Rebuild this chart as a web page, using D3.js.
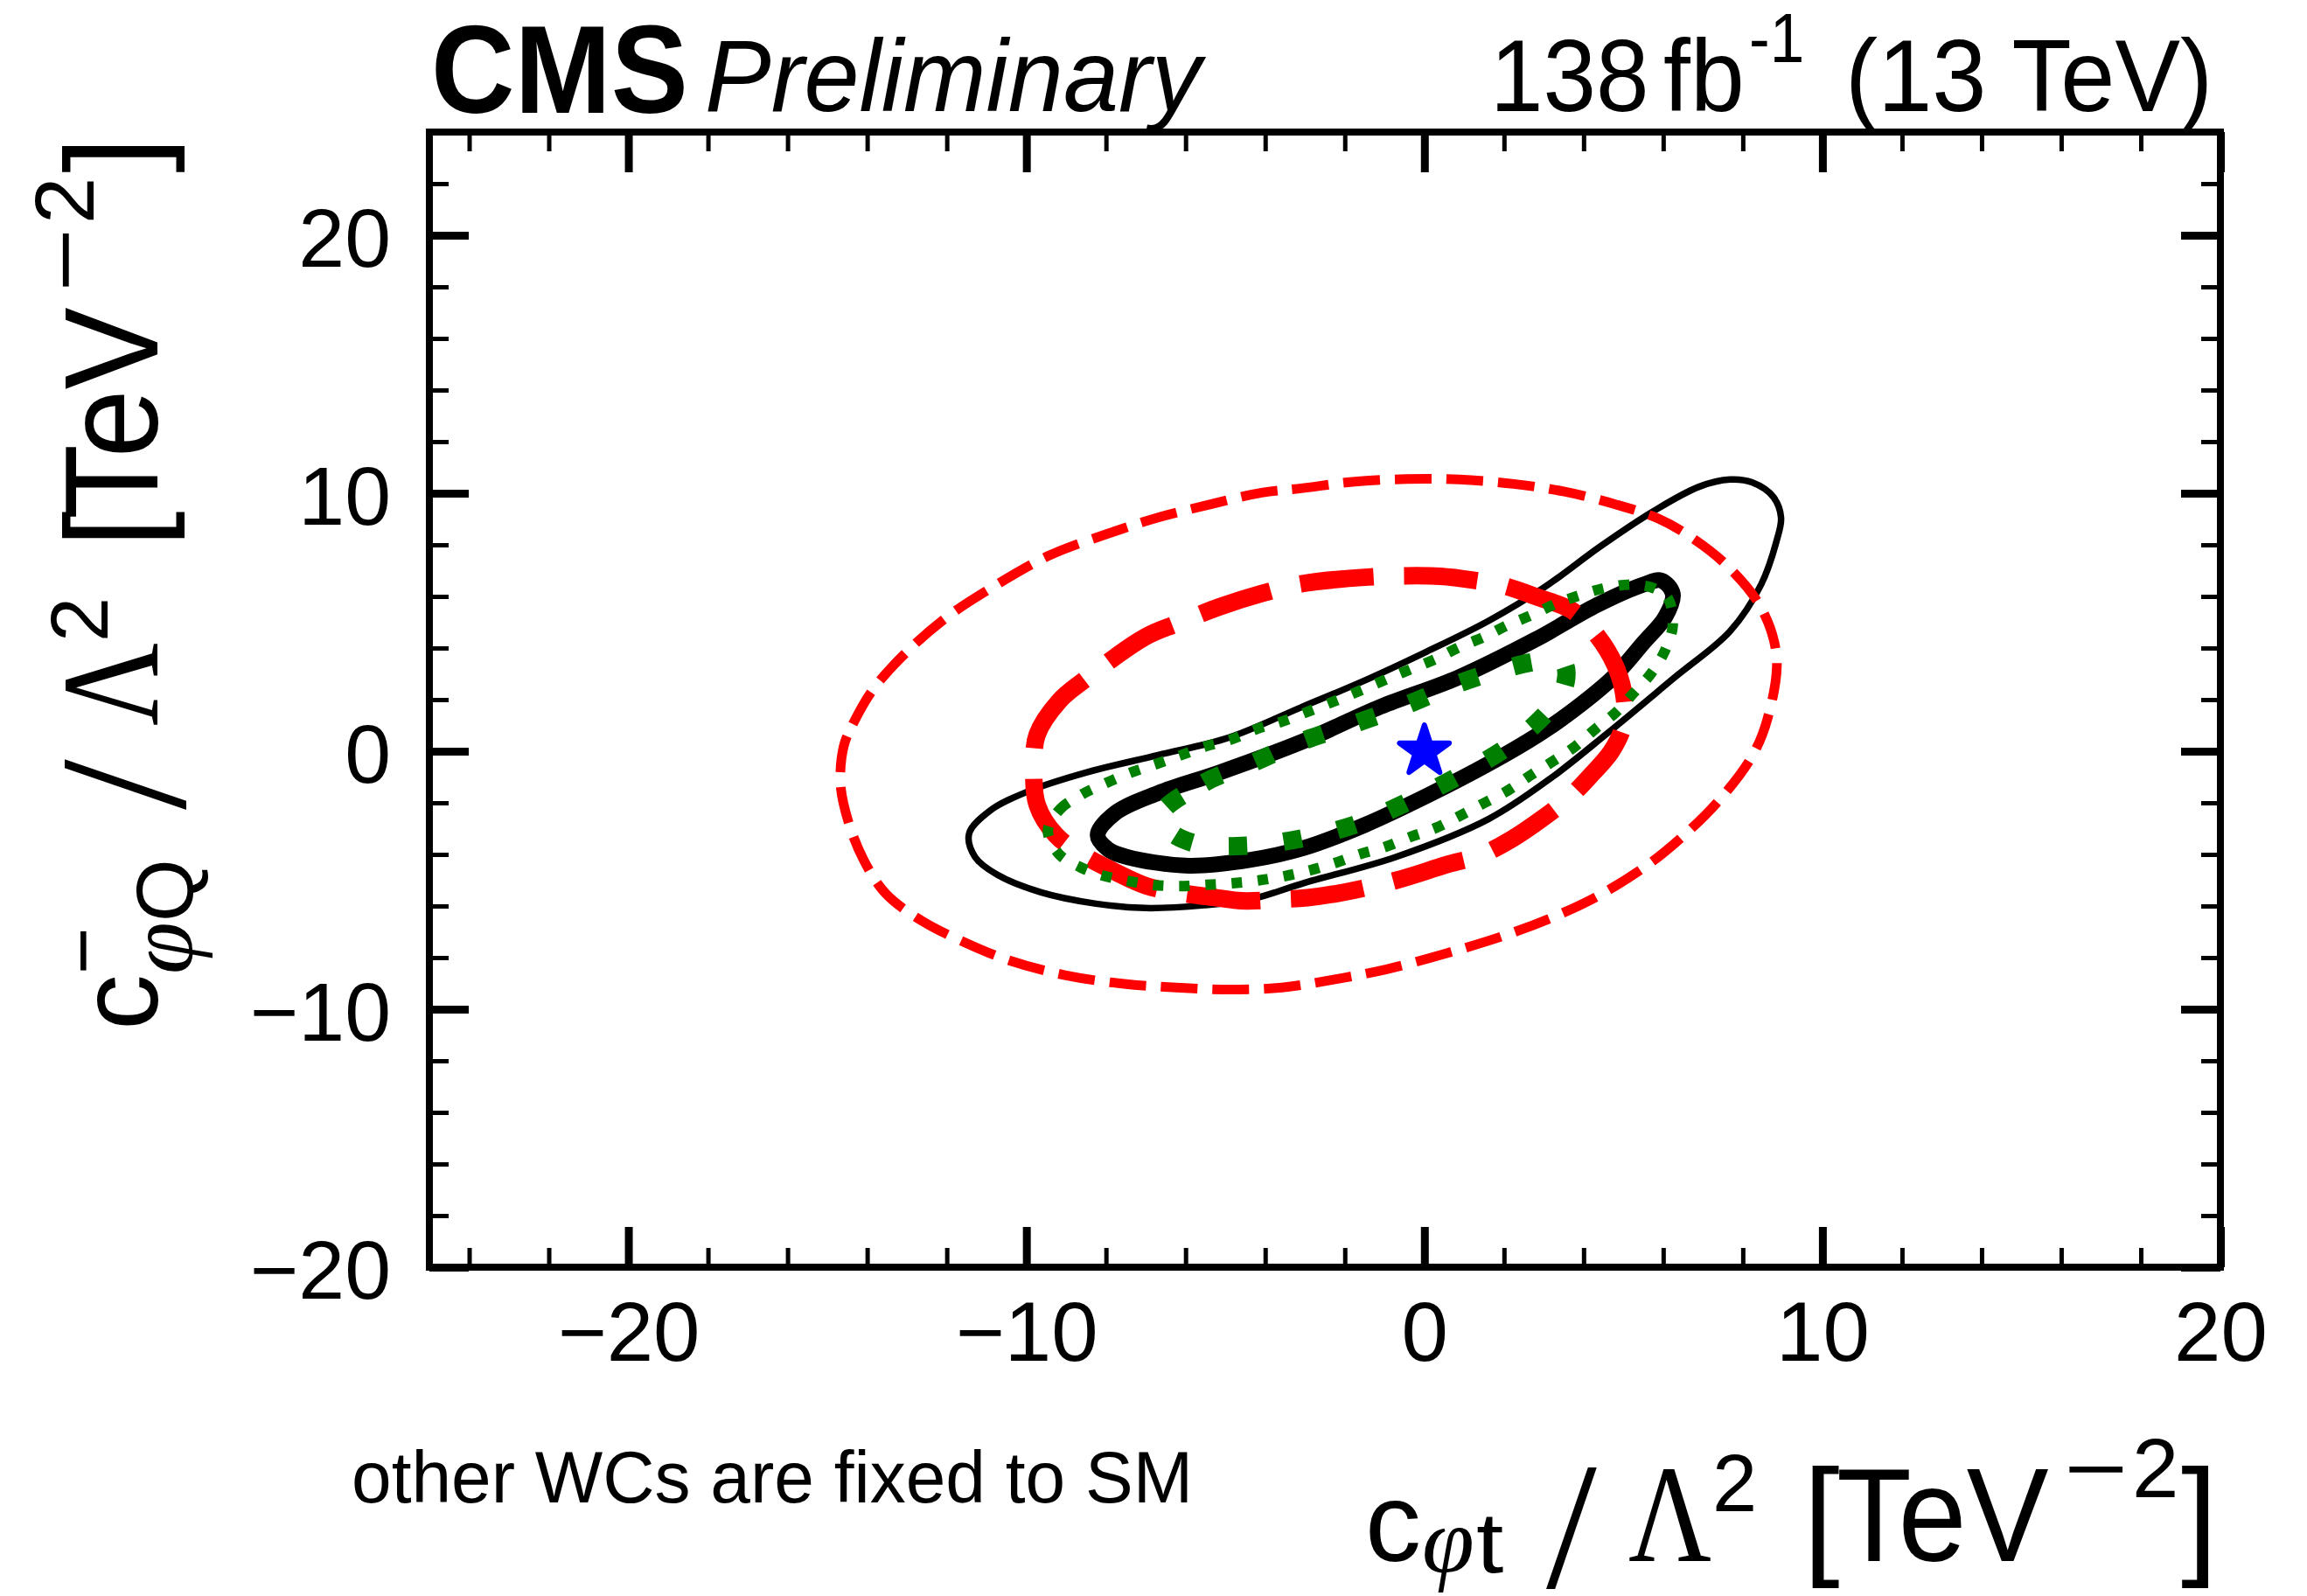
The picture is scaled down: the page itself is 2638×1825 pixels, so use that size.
<!DOCTYPE html>
<html>
<head>
<meta charset="utf-8">
<script src="https://cdn.jsdelivr.net/npm/d3@7"></script>
<style>
  html, body { margin: 0; padding: 0; background: #fff; }
  svg { display: block; }
</style>
</head>
<body>
<svg id="chart" width="2638" height="1825"></svg>
<script>
// ---- axis ranges (Wilson coefficients, TeV^-2) ----
const xDomain = [-25, 20];
const yDomain = [-20, 24];

// ---- best-fit / SM point ----
const bestFit = [[0, 0]];

// ---- observed 68% CL contour (thick black) ----
const obs68 = [
  [-8.21, -3.25], [-7.78, -2.41], [-6.69, -1.62], [-5.14, -0.82], [-3.1, 0.35],
  [-1.11, 1.72], [0.84, 2.85], [2.78, 4.32], [4.34, 5.67], [5.5, 6.46],
  [5.95, 6.62], [6.24, 6.1], [6.05, 5.2], [5.5, 4.2], [4.73, 2.85],
  [3.56, 1.38], [2.86, 0.64], [1.61, -0.49], [0.06, -1.73], [-1.5, -2.86],
  [-3.05, -3.76], [-4.36, -4.21], [-5.92, -4.44], [-7.47, -4.1], [-7.95, -3.8]
];

// ---- observed 95% CL contour (thin black) ----
const obs95 = [
  [-11.44, -3.2], [-10.9, -2.29], [-9.96, -1.56], [-8.48, -0.82], [-6.69, -0.15],
  [-4.91, 0.53], [-3.1, 1.7], [-1.5, 2.74], [0.06, 3.86], [1.61, 5.05],
  [3.01, 6.35], [4.41, 7.93], [5.74, 9.29], [6.9, 10.25], [7.68, 10.53],
  [8.23, 10.42], [8.77, 9.85], [8.96, 9.06], [8.85, 8.16], [8.46, 6.46],
  [7.68, 4.65], [6.28, 2.85], [4.6, 0.7], [3.17, -1.05], [1.61, -2.63],
  [-0.72, -4.1], [-3.05, -5.12], [-4.36, -5.74], [-5.53, -5.97], [-7.01, -6.08],
  [-8.25, -5.91], [-9.65, -5.46], [-10.74, -4.78], [-11.29, -4.1]
];

// ---- expected 68% CL contour (thick green dots) ----
const exp68 = [
  [-6.62, -2.46], [-5.53, -1.22], [-4.28, -0.43], [-3.12, 0.36], [-1.81, 1.04],
  [-0.49, 1.77], [0.76, 2.57], [2.0, 3.19], [3.0, 3.5], [3.5, 3.4],
  [3.55, 2.7], [3.29, 1.89], [2.31, 0.42], [1.15, -0.71], [-0.56, -2.07],
  [-1.77, -2.86], [-3.05, -3.37], [-4.36, -3.65], [-5.72, -3.59], [-6.4, -3.1]
];

// ---- expected 95% CL contour (thin green dots) ----
const exp95 = [
  [-9.46, -3.08], [-9.15, -2.24], [-8.6, -1.67], [-7.98, -1.22], [-7.36, -0.82],
  [-6.73, -0.49], [-6.11, -0.15], [-5.49, 0.19], [-4.83, 0.47], [-4.2, 0.87],
  [-3.58, 1.15], [-2.82, 1.6], [-2.16, 2.0], [-1.54, 2.4], [-0.95, 2.79],
  [-0.33, 3.19], [0.29, 3.58], [0.87, 4.03], [1.5, 4.43], [2.08, 4.88],
  [2.7, 5.28], [3.33, 5.73], [3.95, 6.07], [4.61, 6.35], [5.27, 6.46],
  [5.81, 6.29], [6.13, 5.9], [6.24, 4.88], [6.05, 3.92], [5.7, 3.02],
  [5.27, 2.28], [4.8, 1.49], [4.3, 0.87], [3.79, 0.19], [3.25, -0.37],
  [2.66, -0.94], [2.12, -1.5], [1.5, -2.01], [0.87, -2.52], [0.29, -2.97],
  [-0.33, -3.31], [-0.99, -3.71], [-1.62, -3.99], [-2.24, -4.33], [-2.86, -4.61],
  [-3.51, -4.84], [-4.17, -5.01], [-4.83, -5.12], [-5.49, -5.18], [-6.19, -5.23],
  [-6.85, -5.18], [-7.51, -5.01], [-8.17, -4.78], [-8.64, -4.5], [-9.18, -3.99]
];

// ---- linear-only 68% CL contour (thick red dashes) ----
const lin68 = [
  [-9.81, -0.49], [-9.73, 0.64], [-9.18, 1.94], [-8.56, 2.74], [-7.01, 4.43],
  [-6.23, 4.94], [-5.14, 5.6], [-4.05, 6.13], [-3.05, 6.5], [-1.42, 6.75],
  [-0.49, 6.8], [0.4, 6.78], [1.22, 6.63], [2.0, 6.41], [2.86, 5.96],
  [3.71, 5.45], [4.34, 4.48], [4.8, 3.3], [5.02, 2.1], [5.0, 1.0],
  [4.7, 0.0], [4.2, -0.9], [3.64, -1.79], [2.94, -2.63], [2.2, -3.4],
  [1.38, -4.05], [0.6, -4.38], [-0.7, -5.0], [-1.96, -5.45], [-2.94, -5.68],
  [-3.58, -5.74], [-4.59, -5.8], [-5.22, -5.68], [-6.1, -5.5], [-6.97, -5.23],
  [-7.78, -4.67], [-8.6, -4.0], [-9.26, -3.25], [-9.73, -2.07]
];

// ---- linear-only 95% CL contour (thin red dashes) ----
const lin95 = [
  [-14.59, 0.19], [-14.36, 1.05], [-13.85, 2.4], [-13.0, 3.86], [-11.98, 5.22],
  [-10.86, 6.35], [-9.42, 7.59], [-7.94, 8.44], [-6.69, 9.06], [-5.37, 9.57],
  [-4.09, 10.02], [-3.05, 10.2], [-1.81, 10.44], [-0.45, 10.55], [0.87, 10.53],
  [2.24, 10.36], [3.52, 10.06], [4.8, 9.57], [5.89, 9.01], [6.67, 8.33],
  [7.6, 7.2], [8.46, 5.56], [8.85, 3.64], [8.62, 1.26], [8.23, -0.2],
  [7.37, -1.96], [6.44, -3.37], [5.58, -4.44], [4.41, -5.57], [3.25, -6.42],
  [2.0, -7.15], [0.56, -7.83], [-0.95, -8.45], [-2.28, -8.85], [-3.58, -9.16],
  [-4.91, -9.24], [-6.23, -9.16], [-7.55, -9.02], [-9.03, -8.68], [-10.43, -8.11],
  [-11.52, -7.43], [-12.61, -6.59], [-13.54, -5.51], [-14.09, -4.21], [-14.47, -2.75],
  [-14.67, -1.28]
];

// ---------------------------------------------------------------
const SANS = "'Liberation Sans', Arial, Helvetica, sans-serif";
const SERIF = "'Liberation Serif', 'Times New Roman', serif";

const svg = d3.select("#chart");
const frame = { left: 491, right: 2539, top: 151, bottom: 1449 };

const x = d3.scaleLinear().domain(xDomain).range([frame.left, frame.right]);
const y = d3.scaleLinear().domain(yDomain).range([frame.bottom, frame.top]);

// clip the contours to the frame
svg.append("defs").append("clipPath").attr("id", "plotClip")
  .append("rect")
  .attr("x", frame.left).attr("y", frame.top)
  .attr("width", frame.right - frame.left).attr("height", frame.bottom - frame.top);

const plot = svg.append("g").attr("clip-path", "url(#plotClip)");

const contourLine = d3.line()
  .x(d => x(d[0]))
  .y(d => y(d[1]))
  .curve(d3.curveCatmullRomClosed.alpha(0.5));

const contours = [
  { data: obs95, color: "#000000", width: 7.5, dash: null },
  { data: obs68, color: "#000000", width: 18, dash: null },
  { data: lin95, color: "#ff0000", width: 11, dash: "42 17" },
  { data: lin68, color: "#ff0000", width: 20, dash: "84 35" },
  { data: exp95, color: "#007f00", width: 12, dash: "12 18" },
  { data: exp68, color: "#007f00", width: 21, dash: "21 42" }
];

plot.selectAll("path.contour")
  .data(contours)
  .join("path")
  .attr("class", "contour")
  .attr("d", d => contourLine(d.data))
  .attr("fill", "none")
  .attr("stroke", d => d.color)
  .attr("stroke-width", d => d.width)
  .attr("stroke-dasharray", d => d.dash)
  .attr("stroke-linecap", "butt")
  .attr("stroke-linejoin", "round");

// best-fit marker
plot.selectAll("path.bestfit")
  .data(bestFit)
  .join("path")
  .attr("class", "bestfit")
  .attr("transform", d => `translate(${x(d[0])},${y(d[1])})`)
  .attr("d", d3.symbol(d3.symbolStar, 1000)())
  .attr("fill", "#0000ff")
  .attr("stroke", "#0000ff")
  .attr("stroke-width", 6)
  .attr("stroke-linejoin", "round");

// ---- frame ----
svg.append("rect")
  .attr("x", frame.left).attr("y", frame.top)
  .attr("width", frame.right - frame.left).attr("height", frame.bottom - frame.top)
  .attr("fill", "none").attr("stroke", "#000").attr("stroke-width", 8);

// ---- tick marks on all four sides ----
function ticks(axisFn, scale, count, size, width, transform) {
  const g = svg.append("g")
    .attr("transform", transform)
    .call(axisFn(scale).tickValues(scale.ticks(count)).tickSize(size).tickSizeOuter(0).tickFormat(""));
  g.select(".domain").remove();
  g.selectAll(".tick line").attr("stroke", "#000").attr("stroke-width", width);
  g.selectAll(".tick text").remove();
}
// minor ticks every 2, major every 10
ticks(d3.axisBottom, x, 22, -22, 5, `translate(0,${frame.bottom})`);
ticks(d3.axisTop, x, 22, -22, 5, `translate(0,${frame.top})`);
ticks(d3.axisLeft, y, 22, -22, 5, `translate(${frame.left},0)`);
ticks(d3.axisRight, y, 22, -22, 5, `translate(${frame.right},0)`);
ticks(d3.axisBottom, x, 5, -46, 9, `translate(0,${frame.bottom})`);
ticks(d3.axisTop, x, 5, -46, 9, `translate(0,${frame.top})`);
ticks(d3.axisLeft, y, 5, -45, 9, `translate(${frame.left},0)`);
ticks(d3.axisRight, y, 5, -45, 9, `translate(${frame.right},0)`);

// ---- tick labels ----
const xLabels = svg.append("g")
  .attr("transform", `translate(0,${frame.bottom})`)
  .call(d3.axisBottom(x).tickValues(x.ticks(5)).tickSize(0).tickPadding(39));
xLabels.select(".domain").remove();
xLabels.selectAll("text")
  .attr("font-family", SANS).attr("font-size", 96).attr("fill", "#000");

const yLabels = svg.append("g")
  .attr("transform", `translate(${frame.left},0)`)
  .call(d3.axisLeft(y).tickValues(y.ticks(5)).tickSize(0).tickPadding(44));
yLabels.select(".domain").remove();
yLabels.selectAll("text")
  .attr("font-family", SANS).attr("font-size", 95).attr("fill", "#000")
  .attr("dy", "0.37em");

// ---- text pieces ----
// p.x, p.y: anchor on screen; p.rot: rotation in degrees; p.sx: horizontal glyph scale
function piece(parent, p) {
  parent.append("text")
    .attr("transform", `translate(${p.x},${p.y}) rotate(${p.rot || 0}) scale(${p.sx || 1},1)`)
    .attr("font-family", p.family || SANS)
    .attr("font-size", p.size)
    .attr("font-weight", p.weight || "normal")
    .attr("font-style", p.style || "normal")
    .attr("fill", "#000")
    .text(p.t);
}

// header
[
  { t: "CMS", x: 493, y: 129, size: 143, weight: "bold", sx: 0.925 },
  { t: "Preliminary", x: 806, y: 127, size: 117, style: "italic", sx: 0.97 },
  { t: "138", x: 1704, y: 127, size: 117, sx: 0.93 },
  { t: "fb", x: 1902, y: 127, size: 117, sx: 0.95 },
  { t: "-1", x: 2000, y: 71, size: 79, sx: 0.9 },
  { t: "(13 TeV)", x: 2110, y: 127, size: 117, sx: 0.955 }
].forEach(p => piece(svg, p));

// note
piece(svg, { t: "other WCs are fixed to SM", x: 402, y: 1718, size: 84, sx: 0.977 });

// x-axis title: c_{φt} / Λ^2 [TeV^-2]
[
  { t: "c", x: 1561, y: 1785, size: 128 },
  { t: "\u03C6", x: 1626, y: 1798, size: 108, family: SERIF, style: "italic" },
  { t: "t", x: 1688, y: 1798, size: 98, sx: 1.15 },
  { t: "/", x: 1768, y: 1815, size: 208, family: SERIF },
  { t: "\u039B", x: 1862, y: 1785, size: 158, family: SERIF, sx: 0.83 },
  { t: "2", x: 1958, y: 1728, size: 92 },
  { t: "[", x: 2062, y: 1785, size: 150 },
  { t: "TeV", x: 2100, y: 1785, size: 153, sx: 0.92 },
  { t: "\u2212", x: 2360, y: 1712, size: 96, sx: 1.3 },
  { t: "2", x: 2438, y: 1712, size: 96 },
  { t: "]", x: 2494, y: 1785, size: 150 }
].forEach(p => piece(svg, p));

// y-axis title: c^{-}_{φQ} / Λ^2 [TeV^-2], running upwards;
// s = screen y where the piece starts, b = screen x of its baseline
[
  { t: "c", s: 1178, b: 180, size: 128 },
  { t: "\u2212", s: 1114, b: 126, size: 92 },
  { t: "\u03C6", s: 1114, b: 220, size: 108, family: SERIF, style: "italic" },
  { t: "Q", s: 1054, b: 220, size: 92 },
  { t: "/", s: 926, b: 211, size: 208, family: SERIF },
  { t: "\u039B", s: 830, b: 180, size: 158, family: SERIF, sx: 0.83 },
  { t: "2", s: 734, b: 123, size: 92 },
  { t: "[", s: 626, b: 180, size: 150 },
  { t: "TeV", s: 594, b: 180, size: 153, sx: 0.92 },
  { t: "\u2212", s: 334, b: 107, size: 96, sx: 1.3 },
  { t: "2", s: 256, b: 107, size: 96 },
  { t: "]", s: 198, b: 180, size: 150 }
].forEach(p => piece(svg, Object.assign({}, p, { x: p.b, y: p.s, rot: -90 })));
</script>
</body>
</html>
